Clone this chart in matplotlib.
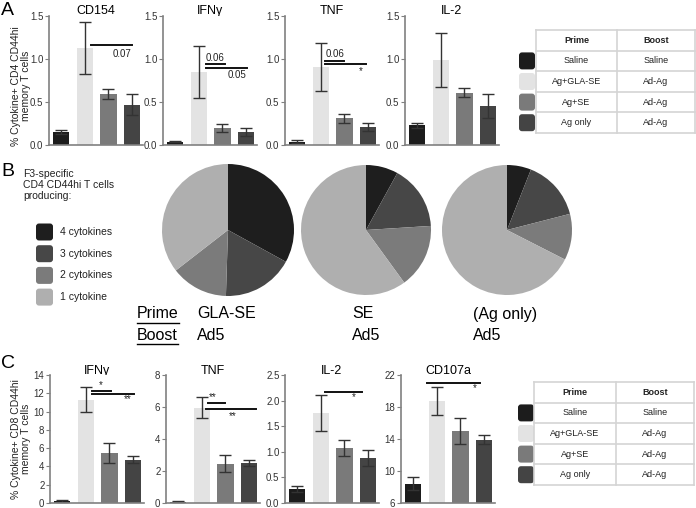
import numpy as np
import matplotlib.pyplot as plt
from matplotlib.patches import FancyBboxPatch

plt.rcParams['font.family'] = ['Liberation Sans', 'DejaVu Sans']

W, H = 696, 508

# groups shared by panels A and C
prime = ['Saline', 'Ag+GLA-SE', 'Ag+SE', 'Ag only']
boost = ['Saline', 'Ad-Ag', 'Ad-Ag', 'Ad-Ag']
bar_colors = ['#1c1c1c', '#e3e3e3', '#7a7a7a', '#444444']

# A: CD4 CD44hi cytokine+ (%)
cd4_titles = ['CD154', 'IFNγ', 'TNF', 'IL-2']
cd4_mean = [[0.15, 1.13, 0.59, 0.47],
            [0.04, 0.85, 0.20, 0.15],
            [0.04, 0.91, 0.31, 0.21],
            [0.23, 0.99, 0.61, 0.45]]
cd4_sem = [[0.02, 0.30, 0.06, 0.12],
           [0.01, 0.30, 0.045, 0.05],
           [0.02, 0.28, 0.05, 0.05],
           [0.03, 0.31, 0.05, 0.14]]
# comparisons: (from, to, line y, label, label x, label y)
cd4_sig = [[(1.25, 3.0, 1.16, '0.07', 2.55, 1.0)],
           [(1.3, 2.1, 0.94, '0.06', 1.7, 0.955), (1.3, 3.05, 0.90, '0.05', 2.6, 0.76)],
           [(1.2, 2.0, 0.98, '0.06', 1.6, 0.995), (1.2, 2.9, 0.94, '*', 2.7, 0.80)],
           []]

# C: CD8 CD44hi cytokine+ (%)
cd8_titles = ['IFNγ', 'TNF', 'IL-2', 'CD107a']
cd8_mean = [[0.2, 11.3, 5.5, 4.75],
            [0.08, 5.95, 2.45, 2.5],
            [0.28, 1.75, 1.07, 0.88],
            [8.4, 18.8, 15.0, 13.9]]
cd8_sem = [[0.08, 1.35, 1.1, 0.38],
           [0.03, 0.65, 0.52, 0.2],
           [0.06, 0.35, 0.16, 0.15],
           [0.8, 1.75, 1.6, 0.55]]
cd8_ylim = [(0, 14), (0, 8), (0, 2.5), (6, 22)]
cd8_step = [2, 2, 0.5, 4]
cd8_sig = [[(1.25, 2.05, 12.3, '*', 1.65, 12.4), (1.25, 3.05, 11.9, '**', 2.75, 10.8)],
           [(1.25, 1.96, 6.25, '**', 1.45, 6.3), (1.2, 3.3, 5.9, '**', 2.3, 5.1)],
           [(1.2, 2.75, 2.17, '*', 2.4, 1.98)],
           [(0.6, 2.8, 21.0, '*', 2.6, 19.8)]]

# B: polyfunctionality pies
pie_labels = ['4 cytokines', '3 cytokines', '2 cytokines', '1 cytokine']
pie_colors = ['#1e1e1e', '#474747', '#7b7b7b', '#afafaf']
pie_prime = ['GLA-SE', 'SE', '(Ag only)']
pie_boost = ['Ad5', 'Ad5', 'Ad5']
pie_fracs = [[33, 17.5, 14, 35.5],
             [8, 16, 16, 60],
             [6, 15, 11.5, 67.5]]

fig = plt.figure(figsize=(W / 100, H / 100), dpi=100)

# overlay in pixel units for text, tables, legend
ov = fig.add_axes([0, 0, 1, 1])
ov.set_xlim(0, W)
ov.set_ylim(H, 0)
ov.axis('off')


def px_axes(x0, y0, x1, y1):
    return fig.add_axes([x0 / W, 1 - y1 / H, (x1 - x0) / W, (y1 - y0) / H])


def bar_panel(x0, y0, y1, mean, sem, title, ylim, ticks, fmt, sig, title_y):
    ax = px_axes(x0, y0, x0 + 94, y1)
    x = np.arange(len(mean))
    ax.bar(x, mean, width=0.68, color=bar_colors, yerr=sem, capsize=4,
           error_kw=dict(ecolor='#333333', elinewidth=1, capthick=1))
    ax.set_xlim(-0.5, 3.45)
    ax.set_ylim(*ylim)
    ax.set_yticks(ticks)
    ax.set_yticklabels([fmt.format(t) for t in ticks])
    ax.set_xticks([])
    for s in ['top', 'right']:
        ax.spines[s].set_visible(False)
    for s in ['left', 'bottom']:
        ax.spines[s].set_color('#808080')
        ax.spines[s].set_linewidth(1.2)
    ax.tick_params(axis='y', length=3, width=0.8, color='#808080',
                   labelsize=7, labelcolor='#333333', pad=1)
    for xa, xb, yl, lab, tx, ty in sig:
        ax.plot([xa, xb], [yl, yl], color='#111111', lw=1.4, clip_on=False)
        ax.text(tx, ty, lab, ha='center', va='bottom', fontsize=7, color='#222222')
    ov.text(x0 + 47, title_y, title, ha='center', va='center', fontsize=9)
    return ax


def group_table(top, left, mid, right, sw_left):
    rh = 20.6
    rows = [('Prime', 'Boost')] + list(zip(prime, boost))
    for i, (p, b) in enumerate(rows):
        yc = top + rh * (i + 0.5)
        fw = 'bold' if i == 0 else 'normal'
        ov.text((left + mid) / 2, yc, p, ha='center', va='center', fontsize=6.5,
                fontweight=fw, color='#222222')
        ov.text((mid + right) / 2, yc, b, ha='center', va='center', fontsize=6.5,
                fontweight=fw, color='#222222')
        if i > 0:
            ov.add_patch(FancyBboxPatch((sw_left, yc - 8.5), 16, 17,
                                        boxstyle='round,pad=0,rounding_size=3',
                                        fc=bar_colors[i - 1], ec='none'))
    for i in range(6):
        ov.plot([left, right], [top + rh * i] * 2, color='#d4d4d4', lw=1.2)
    for xx in (left, mid, right):
        ov.plot([xx, xx], [top, top + 5 * rh], color='#d4d4d4', lw=1.2)


# panel A
a_left = [49, 163, 285, 405]
for k in range(4):
    bar_panel(a_left[k], 16, 145, cd4_mean[k], cd4_sem[k], cd4_titles[k],
              (0, 1.5), [0, 0.5, 1.0, 1.5], '{:.1f}', cd4_sig[k], 11)
group_table(30, 536, 617, 695, 519)
ov.text(21, 86, '% Cytokine+ CD4 CD44hi\nmemory T cells', rotation=90,
        ha='center', va='center', fontsize=7.5, linespacing=1.05, color='#222222')

# panel C
c_left = [50, 166, 285, 401]
for k in range(4):
    lo, hi = cd8_ylim[k]
    ticks = np.arange(lo, hi + 1e-9, cd8_step[k])
    fmt = '{:.1f}' if cd8_step[k] < 1 else '{:.0f}'
    bar_panel(c_left[k], 375, 503, cd8_mean[k], cd8_sem[k], cd8_titles[k],
              cd8_ylim[k], ticks, fmt, cd8_sig[k], 371)
group_table(382, 534, 616, 694, 518)
ov.text(21, 439, '% Cytokine+ CD8 CD44hi\nmemory T cells', rotation=90,
        ha='center', va='center', fontsize=7.5, linespacing=1.05, color='#222222')

# panel B pies
pie_centres = [(228, 230, 66), (366, 230, 65), (507, 230, 65)]
for (cx, cy, r), fr in zip(pie_centres, pie_fracs):
    pa = px_axes(cx - r, cy - r, cx + r, cy + r)
    pa.pie(fr, colors=pie_colors, startangle=90, counterclock=False,
           wedgeprops=dict(linewidth=0))
    pa.set_xlim(-1, 1)
    pa.set_ylim(-1, 1)

ov.text(23, 185, 'F3-specific\nCD4 CD44hi T cells\nproducing:', ha='left',
        va='center', fontsize=7.5, linespacing=1.15, color='#222222')
for i, lab in enumerate(pie_labels):
    yc = 232 + 21.7 * i
    ov.add_patch(FancyBboxPatch((36, yc - 8.5), 17, 17,
                                boxstyle='round,pad=0,rounding_size=3',
                                fc=pie_colors[i], ec='none'))
    ov.text(60, yc, lab, ha='left', va='center', fontsize=7.5, color='#222222')

t_prime = ov.text(137, 314, 'Prime', ha='left', va='center', fontsize=11.5)
t_boost = ov.text(137, 335, 'Boost', ha='left', va='center', fontsize=11.5)
pie_text_x = [197, 352, 473]
for xx, p, b in zip(pie_text_x, pie_prime, pie_boost):
    ov.text(xx, 314, p, ha='left', va='center', fontsize=11.5)
    ov.text(xx, 335, b, ha='left', va='center', fontsize=11.5)

# panel letters
for lab, yy in zip('ABC', [2, 163, 355]):
    ov.text(1, yy, lab, ha='left', va='top', fontsize=14)

# underline Prime / Boost
fig.canvas.draw()
for t in (t_prime, t_boost):
    bb = t.get_window_extent()
    y = bb.y0 - 1
    ov.plot([bb.x0, bb.x1], [H - y, H - y], color='black', lw=1)

fig.savefig('out.png', dpi=100)
